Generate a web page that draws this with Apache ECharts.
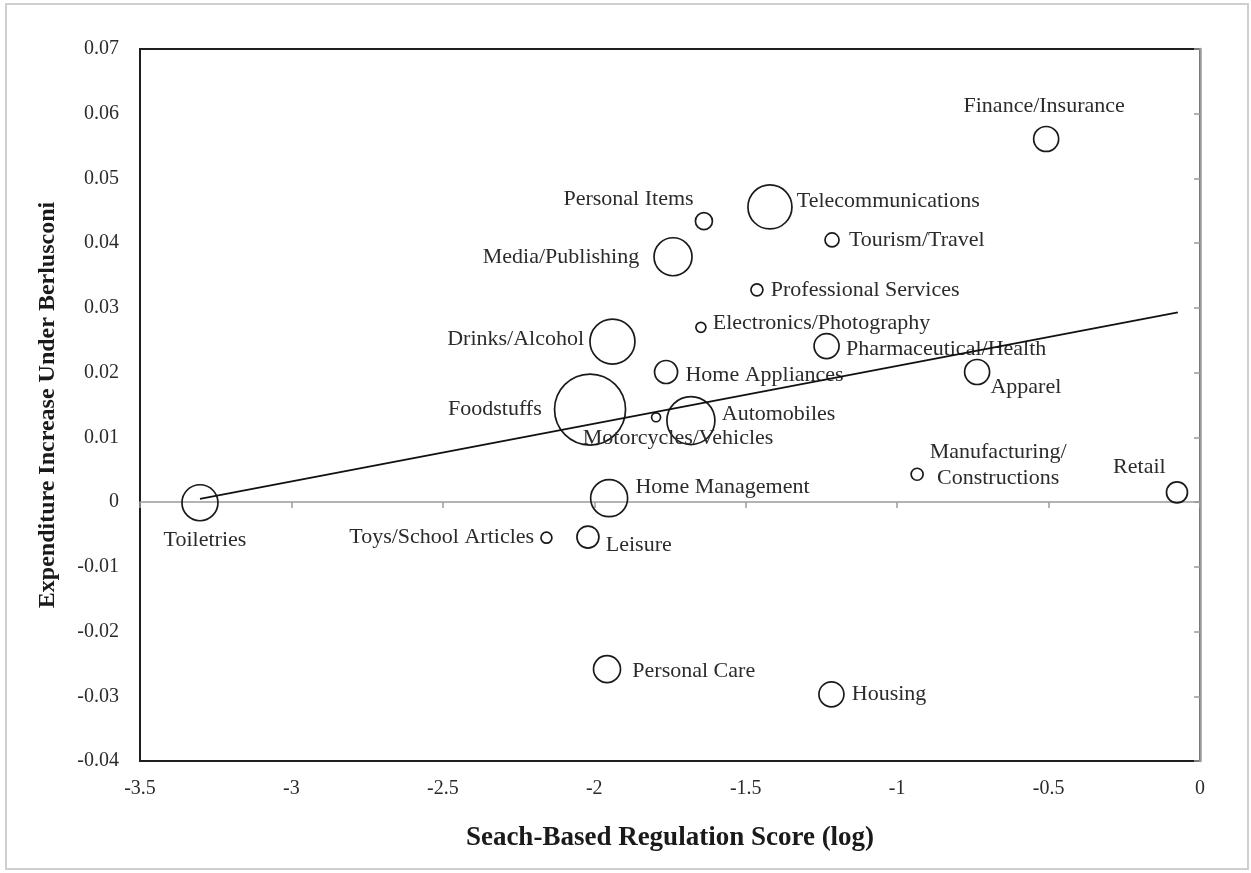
<!DOCTYPE html>
<html>
<head>
<meta charset="utf-8">
<script src="https://cdn.jsdelivr.net/npm/echarts@6/dist/echarts.min.js"></script>
<style>
html,body{margin:0;padding:0;background:#fff;}
#chart{width:1251px;height:873px;}
</style>
</head>
<body>
<div id="chart"></div>
<script>
// ---- data ----
var categories = ['Toiletries','Foodstuffs','Drinks/Alcohol','Home Appliances','Motorcycles/Vehicles','Automobiles',
  'Electronics/Photography','Personal Items','Telecommunications','Media/Publishing','Tourism/Travel','Professional Services',
  'Finance/Insurance','Pharmaceutical/Health','Apparel','Manufacturing/\nConstructions','Retail','Personal Care','Housing',
  'Home Management','Toys/School Articles','Leisure'];
var regScore = [-3.302,-2.014,-1.940,-1.763,-1.796,-1.681,-1.648,-1.638,-1.420,-1.740,-1.215,-1.463,
  -0.508,-1.233,-0.736,-0.934,-0.076,-1.958,-1.217,-1.951,-2.158,-2.021];
var expIncrease = [-0.0001,0.0143,0.0248,0.0201,0.0131,0.0126,0.0270,0.0434,0.0456,0.0379,0.0405,0.0328,
  0.0561,0.0241,0.0201,0.0043,0.0015,-0.0258,-0.0297,0.0006,-0.0055,-0.0054];
var weights = [3.24,12.6,5.06,1.32,0.2,5.76,0.25,0.72,4.84,3.61,0.49,0.36,
  1.56,1.56,1.56,0.36,1.1,1.82,1.56,3.42,0.3,1.21];
var trendX = [-3.302,-0.073];
var trendY = [0.0005,0.0293];
var xTicks = {min:-3.5, max:0, step:0.5};
var yTicks = {min:-0.04, max:0.07, step:0.01};

// ---- label placement (style) ----
var labelLayoutMap = {
  'Toiletries':{position:'bottom',distance:6,shift:[5,0]},
  'Foodstuffs':{position:'left',distance:12},
  'Drinks/Alcohol':{position:'left',distance:5,shift:[0,-2]},
  'Home Appliances':{position:'right',distance:7,shift:[0,3]},
  'Motorcycles/Vehicles':{position:'bottom',distance:3,shift:[22,0]},
  'Automobiles':{position:'right',distance:6,shift:[0,-6]},
  'Electronics/Photography':{position:'right',distance:6,shift:[0,-4]},
  'Personal Items':{position:'left',distance:1,shift:[0,-22]},
  'Telecommunications':{position:'right',distance:4,shift:[0,-6]},
  'Media/Publishing':{position:'left',distance:14},
  'Tourism/Travel':{position:'right',distance:9},
  'Professional Services':{position:'right',distance:7},
  'Finance/Insurance':{position:'top',distance:6,shift:[-2,0]},
  'Pharmaceutical/Health':{position:'right',distance:6,shift:[0,3]},
  'Apparel':{position:'right',distance:0,shift:[0,15]},
  'Manufacturing/\nConstructions':{position:'inside',align:'center',verticalAlign:'middle',shift:[81,-9]},
  'Retail':{position:'left',distance:0,shift:[0,-25]},
  'Personal Care':{position:'right',distance:11,shift:[0,2]},
  'Housing':{position:'right',distance:7},
  'Home Management':{position:'right',distance:7,shift:[0,-11]},
  'Toys/School Articles':{position:'left',distance:6},
  'Leisure':{position:'right',distance:6,shift:[0,8]}
};

var FONT = '"Liberation Serif","Times New Roman",serif';
var TXT = '#2b2b2b';

var bubbleData = categories.map(function(c,i){
  var lay = labelLayoutMap[c] || {position:'right'};
  var lbl = {show:true, position:lay.position};
  if (lay.distance != null) lbl.distance = lay.distance;
  if (lay.align) lbl.align = lay.align;
  if (lay.verticalAlign) lbl.verticalAlign = lay.verticalAlign;
  return {name:c, value:[regScore[i], expIncrease[i], weights[i]], label:lbl};
});
var trendData = trendX.map(function(x,i){ return [x, trendY[i]]; });

var chart = echarts.init(document.getElementById('chart'), null, {renderer:'canvas'});
chart.setOption({
  animation:false,
  backgroundColor:'#fff',
  graphic:[{type:'rect', shape:{x:6,y:4,width:1242,height:865}, style:{fill:'none',stroke:'#cfcfcf',lineWidth:2}, z:-1}],
  grid:{left:140, top:49, right:51, bottom:112, show:true, borderColor:'#1e1e1e', borderWidth:2, backgroundColor:'transparent'},
  xAxis:[{
    type:'value', min:xTicks.min, max:xTicks.max, interval:xTicks.step, position:'bottom',
    axisLine:{show:false, onZero:false}, axisTick:{show:false}, splitLine:{show:false},
    axisLabel:{fontFamily:FONT, fontSize:20, color:TXT, margin:18},
    name:'Seach-Based Regulation Score (log)', nameLocation:'middle', nameGap:64,
    nameTextStyle:{fontFamily:FONT, fontSize:27, fontWeight:'bold', color:'#1a1a1a'}
  },{
    type:'value', min:xTicks.min, max:xTicks.max, interval:xTicks.step, position:'top',
    axisLine:{show:true, onZero:true, onZeroAxisIndex:0, lineStyle:{color:'#9a9a9a', width:1.5}},
    axisTick:{show:true, inside:true, length:6, lineStyle:{color:'#9a9a9a', width:1.5}},
    axisLabel:{show:false}, splitLine:{show:false}
  }],
  yAxis:[{
    type:'value', min:yTicks.min, max:yTicks.max, interval:yTicks.step, position:'left',
    axisLine:{show:false, onZero:false}, axisTick:{show:false}, splitLine:{show:false},
    axisLabel:{fontFamily:FONT, fontSize:20, color:TXT, margin:21},
    name:'Expenditure Increase Under Berlusconi', nameLocation:'middle', nameGap:80, nameRotate:90,
    nameTextStyle:{fontFamily:FONT, fontSize:24, fontWeight:'bold', color:'#1a1a1a'}
  },{
    type:'value', min:yTicks.min, max:yTicks.max, interval:yTicks.step, position:'right',
    axisLine:{show:true, onZero:false, lineStyle:{color:'#9a9a9a', width:2.5}},
    axisTick:{show:true, inside:true, length:6, lineStyle:{color:'#9a9a9a', width:1.5}},
    axisLabel:{show:false}, splitLine:{show:false}
  }],
  series:[{
    type:'scatter', xAxisIndex:0, yAxisIndex:0,
    data:bubbleData,
    symbol:'circle',
    symbolSize:function(v){ return 20*Math.sqrt(v[2]); },
    itemStyle:{color:'rgba(255,255,255,0)', borderColor:'#1a1a1a', borderWidth:1.7, opacity:1},
    label:{show:true, fontFamily:FONT, fontSize:22, color:TXT, lineHeight:26,
      formatter:function(p){ return p.name; }},
    labelLayout:function(params){
      var lay = labelLayoutMap[categories[params.dataIndex]] || {};
      var s = lay.shift || [0,0];
      return {dx:s[0], dy:s[1]};
    },
    emphasis:{disabled:true},
    z:3
  },{
    type:'line', xAxisIndex:0, yAxisIndex:0,
    data:trendData, symbol:'none', lineStyle:{color:'#111', width:1.8},
    emphasis:{disabled:true}, z:4
  }]
});
</script>
</body>
</html>
